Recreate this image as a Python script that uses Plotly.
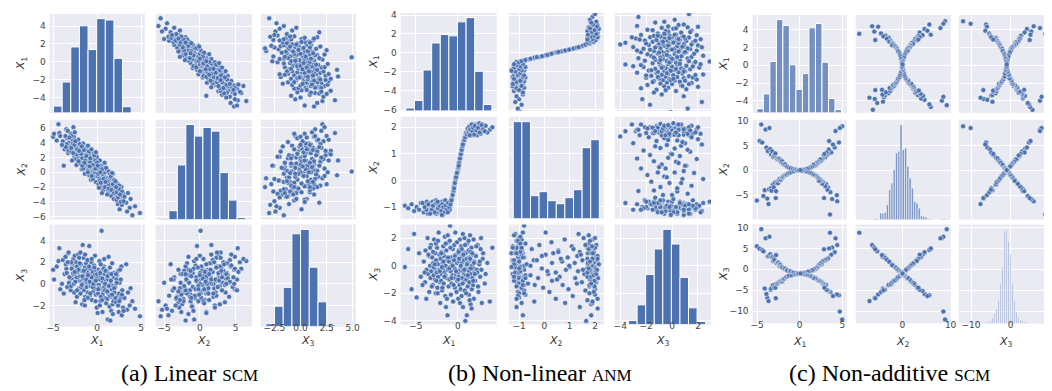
import plotly.graph_objects as go

# ---------------- (a) Linear SCM ----------------
a_x1 = [-5.0,-4.9,-4.4,-4.3,-4.2,-4.6,-3.9,-3.7,-3.5,-3.4,-3.3,-3.2,-3.1,-3.8,-3.6,-3.0,-3.45,-3.25,
        -2.9,-2.8,-2.7,-2.6,-2.5,-2.4,-2.3,-2.2,-2.1,-2.95,-2.85,-2.75,-2.65,-2.55,-2.45,-2.35,-2.25,-2.15,-2.05,-2.6,-2.3,-2.9,
        -1.95,-1.9,-1.85,-1.8,-1.75,-1.7,-1.65,-1.6,-1.55,-1.5,-1.45,-1.4,-1.35,-1.3,-1.25,-1.2,-1.15,-1.1,-1.05,-1.0,-1.9,-1.6,-1.4,-1.2,-1.7,-1.1,
        -0.95,-0.9,-0.85,-0.8,-0.75,-0.7,-0.65,-0.6,-0.55,-0.5,-0.45,-0.4,-0.35,-0.3,-0.25,-0.2,-0.15,-0.1,-0.05,-0.8,-0.5,-0.3,
        0.05,0.1,0.15,0.2,0.25,0.3,0.35,0.4,0.45,0.5,0.55,0.6,0.65,0.7,0.75,0.8,0.85,0.9,0.95,0.2,0.4,0.6,0.8,0.3,0.9,
        1.05,1.1,1.15,1.2,1.25,1.3,1.35,1.4,1.45,1.5,1.55,1.6,1.65,1.7,1.75,1.8,1.85,1.9,1.95,1.3,1.6,1.9,
        2.05,2.15,2.25,2.35,2.45,2.55,2.65,2.75,2.85,2.95,2.2,2.5,2.8,2.4,
        3.1,3.3,3.5,3.7,3.8,3.4,4.0,4.3,4.86,
        -3.15,-2.95,-2.72,-2.48,-2.28,-2.12,-1.98,-1.82,-1.68,-1.52,-1.38,-1.22,-1.08,-0.92,-0.78,-0.62,-0.48,-0.32,-0.18,-0.02,
        0.12,0.28,0.42,0.58,0.72,0.88,1.02,1.18,1.32,1.48,1.62,1.78,1.92,2.08,2.22,2.38,2.52,2.68,2.82,3.0,
        -3.55,-2.05,-1.45,-0.85,-0.15,0.35,0.95,1.55,2.15,-2.55,-1.75,-0.65,0.55,1.15,-4.0,-3.35,0.05,1.7,-1.05,2.6]
a_x2 = [4.8,5.2,6.5,5.3,4.9,4.3,4.2,3.1,5.8,4.6,2.6,4.0,3.5,0.9,4.9,5.2,3.8,2.9,
        3.6,4.4,6.1,2.2,3.3,1.8,4.1,2.6,3.0,2.8,1.6,3.9,4.8,2.5,3.5,1.0,2.9,4.4,2.0,3.7,2.4,4.9,
        2.7,1.2,3.3,2.1,0.4,2.8,1.6,3.9,2.3,1.0,2.6,-0.2,1.9,3.2,1.4,2.5,0.6,1.8,3.6,0.9,2.4,0.5,2.1,1.1,1.9,2.9,
        1.5,-0.4,2.3,0.3,1.1,-1.0,2.0,0.7,-0.1,1.8,0.2,2.6,-0.6,1.2,0.0,1.6,-1.3,0.8,2.1,1.4,-0.9,0.4,
        -0.5,1.2,-1.6,0.3,-0.8,1.6,-0.2,-1.9,0.6,0.1,-1.2,0.9,-0.4,-2.4,0.2,-1.0,1.3,-0.7,-1.8,-2.1,0.9,-0.2,0.5,-1.1,0.0,
        -1.4,0.3,-2.3,-0.8,-1.9,0.1,-2.7,-1.1,-0.3,-2.0,-1.5,-3.2,-0.6,-1.8,-2.5,-0.2,-1.3,-3.6,-2.1,-1.6,-0.9,-1.0,
        -2.4,-3.0,-1.5,-4.3,-2.6,-5.0,-3.3,-2.0,-3.8,-2.9,-3.7,-1.8,-4.4,-2.2,
        -3.3,-4.1,-2.8,-4.8,-3.6,-5.3,-5.8,-4.6,-5.5,
        4.7,3.3,2.6,4.2,3.1,1.5,3.8,2.5,0.9,3.0,1.6,2.2,0.2,2.8,1.9,-0.5,1.0,2.3,0.5,1.3,
        -0.2,0.7,-1.4,0.4,-0.9,-2.0,0.6,-1.2,-2.2,-0.7,-2.4,-1.6,-2.8,-1.2,-2.7,-3.4,-2.3,-4.0,-2.6,-3.9,
        3.4,2.9,1.3,0.8,2.7,0.0,-1.3,-0.5,-2.0,5.4,3.5,3.1,-2.8,-3.0,3.7,5.6,0.9,-0.1,0.0,-3.0]
a_x3 = [1.3,0.4,2.1,3.3,-0.5,1.6,2.2,0.9,1.4,-0.3,2.8,0.1,1.9,-0.9,2.5,-0.6,1.0,2.9,
        0.5,1.7,2.3,-0.8,1.2,2.0,-1.2,0.3,1.5,-0.2,1.9,0.8,0.0,2.6,-1.7,0.6,1.1,2.7,-0.4,0.9,1.6,1.4,
        0.7,-0.9,1.8,0.2,1.2,-1.9,3.6,0.5,2.4,-0.6,0.9,1.5,-1.2,0.1,1.9,-0.3,0.8,2.2,-0.8,0.4,2.9,-0.1,-2.0,1.3,0.0,1.0,
        0.6,3.5,-1.1,1.4,-0.2,0.9,2.0,-1.5,0.3,1.1,-0.7,0.5,1.7,-0.4,2.6,0.0,-1.0,1.2,-2.2,0.1,-0.3,0.8,
        0.6,-0.9,1.3,-0.1,2.1,0.4,-1.6,0.7,-0.5,4.9,1.0,-2.6,0.2,-0.8,1.6,-0.3,0.9,-1.3,0.3,-0.4,1.8,-1.0,2.3,-2.0,0.0,
        -0.6,1.2,-1.4,-3.3,0.4,-0.9,0.9,-2.1,1.5,-3.4,0.1,-1.2,-0.5,1.9,-1.9,-0.2,-1.6,0.6,-0.8,2.5,-2.5,1.0,
        -0.3,-1.7,0.8,-1.1,-2.6,0.1,-1.4,1.6,-0.6,-2.2,0.4,-0.9,-2.9,1.2,
        -1.3,1.8,-0.8,-2.0,-0.4,-2.4,-1.6,-2.3,-3.0,
        0.6,2.0,1.0,0.2,-0.6,1.3,1.9,-0.3,0.7,1.2,2.7,0.4,-1.3,1.6,-0.9,2.3,0.0,1.5,-1.6,0.9,
        -0.5,1.1,-1.2,0.5,1.4,-0.6,-1.8,0.7,-0.2,-1.1,0.9,-2.8,-0.4,-1.3,0.1,-2.0,-1.6,0.4,-1.0,-2.5,
        1.8,2.4,-1.5,0.2,0.3,1.0,1.2,0.3,0.9,1.1,-0.1,0.6,-1.5,-0.7,0.0,2.0,-2.7,-1.0,0.8,1.3]
# histogram bins: first edge, bin width, bar heights
a_h1_start, a_h1_width = -4.96, 0.981
a_h1_counts = [21,95,203,268,195,290,286,168,19,1]
a_h2_start, a_h2_width = -5.54, 1.193
a_h2_counts = [4,27,165,287,252,278,267,142,59,6]
a_h3_start, a_h3_width = -3.32, 0.832
a_h3_counts = [8,60,116,275,288,176,73,5,1,1]

# ---------------- (b) Non-linear ANM ----------------
b_x1 = [-6.3,-5.9,-5.5,-5.2,-4.9,-4.4,
        -4.05,-3.9,-3.85,-3.7,-3.6,-3.55,-3.45,-3.4,-3.3,-3.25,-3.2,-3.15,-3.75,
        -3.05,-2.98,-2.93,-2.88,-2.82,-2.77,-2.72,-2.68,-2.63,-2.57,-2.52,-2.47,-2.43,-2.38,-2.33,-2.28,-2.22,-2.18,-2.13,-2.1,-2.6,-2.9,
        -2.05,-2.0,-1.96,-1.91,-1.87,-1.82,-1.78,-1.73,-1.69,-1.64,-1.6,-1.55,-1.5,-1.46,-1.41,-1.37,-1.32,-1.27,-1.23,-1.18,-1.14,-1.1,-1.8,-1.5,
        -1.05,-1.0,-0.96,-0.92,-0.87,-0.83,-0.78,-0.74,-0.7,-0.65,-0.6,-0.56,-0.52,-0.47,-0.43,-0.38,-0.34,-0.3,-0.25,-0.21,-0.16,-0.12,-0.08,-0.9,
        -0.02,0.02,0.05,0.09,0.12,0.16,0.2,0.23,0.26,0.3,0.33,0.37,0.4,0.44,0.47,0.51,0.54,0.58,0.61,0.65,0.68,0.72,0.75,0.79,0.82,0.86,0.89,0.93,0.96,
        1.0,1.04,1.07,1.1,1.14,1.17,1.2,1.24,1.27,1.31,1.34,1.38,1.41,1.45,1.48,1.52,1.55,1.59,1.62,1.66,1.69,1.73,1.76,1.8,1.83,1.87,1.9,1.94,1.97,1.5,
        2.05,2.15,2.25,2.35,2.45,2.55,2.65,2.75,2.85,2.95,2.3,2.7,3.3,3.8,4.1,3.5,
        -3.95,-3.5,-3.1,-2.95,-2.75,-2.55,-2.35,-2.15,-1.98,-1.84,-1.71,-1.58,-1.44,-1.3,-1.16,-1.02,-0.88,-0.76,-0.62,-0.5,
        -0.36,-0.22,-0.1,0.04,0.14,0.25,0.35,0.46,0.56,0.66,0.77,0.87,0.98,1.08,1.18,1.28,1.36,1.46,1.56,1.64,
        1.72,1.82,1.92,2.02,2.2,2.4,2.6,2.8,3.0,3.2,-4.6,-4.2,-3.3,-2.4,-1.9,-1.2,0.6,1.4,-0.45,0.1]
b_x2 = [-0.95,-1.05,-0.9,-1.15,-1.0,-0.85,
        -1.2,-0.95,-1.1,-0.8,-1.0,-1.25,-0.9,-1.05,-1.15,-0.85,-1.0,-0.95,-1.1,
        -1.05,-0.8,-1.2,-1.0,-0.9,-1.15,-1.05,-0.85,-1.0,-1.25,-0.95,-1.1,-0.9,-1.0,-1.2,-0.85,-1.05,-0.95,-1.1,-0.9,-0.75,-1.15,
        -1.0,-1.2,-0.9,-1.05,-0.8,-1.1,-0.95,-1.25,-1.0,-0.85,-1.15,-0.95,-1.05,-0.8,-1.1,-0.9,-1.0,-1.2,-0.85,-0.95,-1.05,-0.9,-1.3,-0.75,
        -1.0,-0.85,-1.1,-0.8,-0.95,-0.75,-0.8,-0.65,-0.7,-0.55,-0.5,-0.4,-0.42,-0.25,-0.2,-0.1,-0.05,0.05,0.05,0.15,0.2,0.3,0.3,-0.95,
        0.35,0.45,0.45,0.55,0.6,0.7,0.72,0.8,0.85,0.92,0.95,1.0,1.08,1.12,1.2,1.22,1.3,1.33,1.4,1.4,1.48,1.5,1.58,1.55,1.62,1.68,1.65,1.72,1.75,
        1.8,1.7,1.85,1.75,1.9,1.78,1.95,1.7,1.88,2.0,1.8,1.92,2.05,1.75,1.98,1.85,2.08,1.9,1.7,2.0,1.88,2.12,1.95,1.78,2.02,1.92,2.1,1.82,2.0,1.95,
        1.9,2.1,1.8,2.05,1.95,2.15,1.85,2.0,1.9,2.1,1.7,1.75,2.05,1.9,2.0,1.8,
        -1.0,-0.9,-1.1,-0.95,-1.2,-0.85,-1.05,-0.95,-1.15,-0.9,-1.0,-1.2,-0.95,-1.1,-0.85,-1.0,-0.9,-0.75,-0.55,-0.38,
        -0.1,0.12,0.28,0.5,0.65,0.82,0.98,1.15,1.28,1.44,1.52,1.62,1.78,1.72,1.95,1.8,2.02,1.9,1.75,2.1,
        1.85,1.98,1.72,2.05,1.88,1.98,1.8,2.08,1.92,1.85,-1.1,-0.85,-1.25,-0.8,-1.3,-1.2,1.35,1.7,-0.3,0.55]
b_x3 = [-0.1,1.2,-1.7,2.3,-2.3,-0.8,
        0.3,-1.2,1.1,-0.3,2.0,-0.6,0.7,-1.9,0.0,-0.9,1.5,-0.4,-2.4,
        0.6,-1.4,0.2,-0.7,1.9,-0.2,-1.0,0.9,-2.0,0.4,-0.5,1.3,-1.6,0.1,-0.8,2.4,-0.3,0.8,-1.2,-2.7,1.6,-0.1,
        0.5,-1.1,1.0,-0.6,-1.8,0.2,-0.2,1.4,-1.3,0.7,-0.5,2.1,-2.2,0.0,-3.0,1.1,-0.9,0.4,-3.6,-0.3,1.7,-1.5,0.9,-0.7,
        0.3,-1.0,1.8,2.9,-0.4,-2.1,0.6,-1.3,0.1,-0.7,1.2,-2.6,0.4,-0.9,1.5,-0.2,-1.6,2.4,0.8,-0.6,-1.9,0.2,-1.1,-0.1,
        0.9,-0.5,-2.4,1.1,-0.8,0.3,-1.4,1.9,-0.3,0.6,-1.7,-0.1,1.4,-2.2,0.2,-0.9,0.7,-0.4,-3.0,1.0,-1.2,0.4,-0.6,2.0,-1.8,-0.2,-4.0,0.9,-0.7,
        -1.0,0.5,-3.6,1.6,-0.3,-1.5,0.2,-0.8,1.1,-2.1,-0.4,0.6,-1.2,2.2,-0.1,-2.8,0.4,-0.6,1.3,-1.7,0.0,-0.9,0.8,-1.4,-0.2,1.9,-2.4,0.3,-0.5,1.0,
        -1.1,0.7,-0.3,1.5,-1.9,0.1,-0.8,2.0,-2.7,0.5,-0.5,1.2,-0.6,-2.6,1.3,0.2,
        -0.5,0.8,-1.5,1.0,0.1,-1.1,1.8,-0.4,0.9,-1.6,0.3,-0.8,1.6,-2.4,0.6,-0.2,1.3,-0.9,0.0,-1.4,
        0.7,-0.4,1.7,-1.0,0.5,-2.7,0.0,1.2,-1.3,0.8,-0.3,1.5,-2.0,0.1,-0.7,1.8,-1.2,0.5,-0.2,-3.1,
        0.9,-1.1,0.2,-0.6,1.4,-1.5,0.3,-0.3,0.9,-1.3,0.9,-1.4,1.3,-2.0,-0.1,2.2,2.3,-2.5,0.4,1.0]
b_h1_start, b_h1_width = -6.18, 1.023
b_h1_counts = [9,32,126,209,235,231,274,287,122,20]
b_h2_start, b_h2_width = -1.23, 0.34
b_h2_counts = [97,97,23,27,18,15,21,29,71,79]
b_h3_start, b_h3_width = -4.02, 0.661
b_h3_counts = [1,4,20,51,77,97,82,48,17,3]

# ---------------- (c) Non-additive SCM ----------------
c_x1 = [-5.02,-4.7,-4.5,-4.4,-4.1,-4.0,-4.25,-3.8,-3.65,-3.55,-3.9,-3.75,-3.6,-3.45,-3.4,-3.35,-3.3,-3.2,-3.15,-3.1,
        -3.05,-3.0,-2.95,-2.9,-2.85,-2.8,-2.77,-2.7,-2.65,-2.6,-2.55,-2.5,-2.45,-2.4,-2.35,-2.3,-2.25,-2.2,-2.15,-2.1,
        -2.05,-2.0,-1.95,-1.9,-1.8,-1.75,-1.7,-1.6,-1.55,-1.5,-1.45,-1.35,-1.25,-1.15,-1.05,-0.95,-0.8,-0.7,-0.55,-0.4,-0.25,-0.1,
        4.98,4.7,4.6,4.4,4.2,4.1,4.35,3.55,3.8,3.7,3.9,3.6,3.45,3.4,3.35,3.3,3.25,3.15,3.1,3.05,
        3.0,2.95,2.85,2.8,2.75,2.7,2.65,2.6,2.55,2.5,2.9,2.45,2.4,2.35,2.3,2.25,2.2,2.15,2.1,2.05,
        2.0,1.95,1.9,1.85,1.8,1.7,1.65,1.6,1.55,1.45,1.35,1.25,1.15,1.05,0.95,0.85,0.7,0.55,0.4,0.25,0.1]
c_x2 = [-6.1,5.9,9.2,5.6,-4.0,8.2,-5.2,-5.7,-6.8,8.5,4.6,3.9,-3.8,4.3,-3.6,3.2,-4.1,3.8,-2.9,2.7,
        -3.4,3.1,2.9,-2.5,3.4,-5.6,-4.2,2.5,-2.3,2.2,-2.6,2.4,-2.0,2.3,-1.7,1.9,2.0,-1.9,1.6,-1.5,
        1.8,-1.4,1.3,-1.2,1.1,-1.0,1.2,-0.9,0.8,-0.85,0.7,-0.6,0.5,-0.5,0.4,-0.35,0.25,-0.2,0.15,0.1,-0.05,0.0,
        8.86,8.5,5.6,-6.25,7.9,4.6,-5.0,-8.9,-5.8,3.6,5.2,-4.4,5.9,4.2,-3.5,3.3,-3.9,3.6,-2.8,2.9,
        -3.2,2.6,-5.6,3.0,-2.4,2.4,-2.7,2.2,-2.1,1.9,3.3,-2.0,2.2,-1.8,1.6,-2.1,1.7,-1.5,1.4,-1.3,
        1.5,1.2,-1.1,1.0,-1.0,0.9,-0.9,1.1,-0.8,0.7,-0.55,0.55,-0.45,0.4,-0.3,0.3,-0.2,0.15,0.05,-0.1,0.05]
c_x3 = [5.5,4.9,9.6,4.6,-4.6,7.4,4.3,-6.8,-7.6,7.8,-5.9,3.1,3.2,3.6,-4.9,-4.6,3.0,2.9,-3.8,2.0,
        2.6,-4.4,2.2,-3.6,-4.4,-6.9,3.4,1.5,-3.5,-3.3,1.7,1.6,-3.1,1.2,0.8,-2.9,1.1,-2.8,0.7,0.5,
        -2.9,-2.5,0.3,-2.3,-2.2,0.1,0.2,-1.9,-1.8,-0.1,-0.3,-1.6,-1.5,-0.4,-0.5,-1.4,-0.7,-0.8,-1.2,-0.9,-1.1,-1.0,
        -12.0,-10.1,-6.2,5.8,7.4,4.1,-6.0,8.75,5.2,3.5,-6.4,-5.4,5.0,-5.2,2.7,2.5,-5.0,-4.9,-3.7,2.1,
        2.3,-3.7,4.8,2.0,-3.5,-3.3,1.8,1.3,-3.1,-2.9,-4.4,1.1,1.4,-2.8,-2.7,1.0,0.9,-2.6,0.5,0.4,
        -2.4,0.3,-2.2,-2.1,0.0,0.1,-1.9,-2.0,-0.2,-0.2,-1.6,-1.6,-0.5,-1.4,-0.6,-1.3,-1.2,-0.8,-1.1,-0.9,-1.0]
c_h1_start, c_h1_width = -5.02, 0.763
c_h1_counts = [13,58,157,285,267,147,72,120,260,273,155,44,10]
c_h2_start, c_h2_width = -6.6, 0.47
c_h2_counts = [2,2,4,2,20,20,22,45,90,110,150,200,205,285,210,215,160,125,95,55,50,35,12,10,8,4,2,1,0,0,0,3,3,2]
c_h3_start, c_h3_width = -12.8, 0.5
c_h3_counts = [1,0,1,0,2,1,0,1,2,2,3,2,4,5,6,10,18,30,45,70,120,170,280,285,250,210,120,70,35,20,
               12,8,6,5,4,3,3,2,2,1,1,2,1,1,0,1]

# tick values / labels
a_xticks = [[-5, 0, 5], [-5, 0, 5], [-2.5, 0, 2.5, 5]]
a_xtext = [['−5', '0', '5'], ['−5', '0', '5'], ['−2.5', '0.0', '2.5', '5.0']]
a_yticks = [[-4, -2, 0, 2, 4], [-6, -4, -2, 0, 2, 4, 6], [-2, 0, 2, 4]]
a_ytext = [['−4', '−2', '0', '2', '4'], ['−6', '−4', '−2', '0', '2', '4', '6'], ['−2', '0', '2', '4']]
b_xticks = [[-5, 0], [-1, 0, 1, 2], [-4, -2, 0, 2]]
b_xtext = [['−5', '0'], ['−1', '0', '1', '2'], ['−4', '−2', '0', '2']]
b_yticks = [[-6, -4, -2, 0, 2, 4], [-1, 0, 1, 2], [-4, -2, 0, 2]]
b_ytext = [['−6', '−4', '−2', '0', '2', '4'], ['−1', '0', '1', '2'], ['−4', '−2', '0', '2']]
c_xticks = [[-5, 0, 5], [0, 10], [-10, 0, 10]]
c_xtext = [['−5', '0', '5'], ['0', '10'], ['−10', '0', '10']]
c_yticks = [[-4, -2, 0, 2, 4], [-5, 0, 5, 10], [-10, -5, 0, 5, 10]]
c_ytext = [['−4', '−2', '0', '2', '4'], ['−5', '0', '5', '10'], ['−10', '−5', '0', '5', '10']]

var_titles = ['<i>X</i><sub>1</sub>', '<i>X</i><sub>2</sub>', '<i>X</i><sub>3</sub>']
captions = ['(a) Linear <span style="font-size:17px">SCM</span>',
            '(b) Non-linear <span style="font-size:17px">ANM</span>',
            '(c) Non-additive <span style="font-size:17px">SCM</span>']

# ---------------- layout geometry ----------------
W, H = 1052, 391
BLUE = '#4C72B0'
BG = '#EAEAF2'
TICKFONT = dict(family='DejaVu Sans', size=9, color='#444444')
TITLEFONT = dict(family='DejaVu Sans', size=11, color='#333333')
CAPFONT = dict(family='Liberation Serif, Times New Roman, serif', size=24, color='black')

groups = [
    dict(data=[a_x1, a_x2, a_x3],
         hists=[(a_h1_start, a_h1_width, a_h1_counts), (a_h2_start, a_h2_width, a_h2_counts),
                (a_h3_start, a_h3_width, a_h3_counts)],
         cols=[(39, 135), (146, 243), (252, 348)],
         rows=[(2, 103), (110, 212), (217, 321)],
         xr=[[-5.40, 5.42], [-6.18, 7.29], [-3.80, 5.32]],
         yr=[[-5.72, 5.35], [-6.4, 7.1], [-3.94, 5.48]],
         xt=a_xticks, xtt=a_xtext, yt=a_yticks, ytt=a_ytext,
         hfill=[BLUE, BLUE, BLUE], hedge=[1, 1, 1],
         ytitle_x=11, xtitle_y=336, cap_x=180),
    dict(data=[b_x1, b_x2, b_x3],
         hists=[(b_h1_start, b_h1_width, b_h1_counts), (b_h2_start, b_h2_width, b_h2_counts),
                (b_h3_start, b_h3_width, b_h3_counts)],
         cols=[(393, 490), (502, 598), (609, 706)],
         rows=[(1, 101), (107, 211), (217, 319)],
         xr=[[-6.8, 4.63], [-1.41, 2.35], [-4.42, 3.0]],
         yr=[[-6.15, 4.22], [-1.44, 2.39], [-4.26, 2.98]],
         xt=b_xticks, xtt=b_xtext, yt=b_yticks, ytt=b_ytext,
         hfill=[BLUE, BLUE, BLUE], hedge=[1, 1, 1],
         ytitle_x=366, xtitle_y=336, cap_x=534),
    dict(data=[c_x1, c_x2, c_x3],
         hists=[(c_h1_start, c_h1_width, c_h1_counts), (c_h2_start, c_h2_width, c_h2_counts),
                (c_h3_start, c_h3_width, c_h3_counts)],
         cols=[(748, 843), (852, 948), (956, 1051)],
         rows=[(3, 103), (110, 212), (217, 318)],
         xr=[[-5.52, 5.52], [-9.65, 10.06], [-13.08, 10.68]],
         yr=[[-5.37, 5.68], [-9.94, 10.18], [-12.95, 10.7]],
         xt=c_xticks, xtt=c_xtext, yt=c_yticks, ytt=c_ytext,
         hfill=['rgba(76,114,176,0.75)', 'rgba(76,114,176,0.7)', 'rgba(76,114,176,0.3)'],
         hedge=[1, 0.6, 0.5],
         ytitle_x=719, xtitle_y=337, cap_x=886),
]

fig = go.Figure()
lay = dict(width=W, height=H, margin=dict(l=0, r=0, t=0, b=0),
           paper_bgcolor='white', plot_bgcolor=BG, showlegend=False,
           barmode='overlay', annotations=[])

for g, G in enumerate(groups):
    for r in range(3):
        for c in range(3):
            p = g * 9 + r * 3 + c + 1
            s = '' if p == 1 else str(p)
            xref, yref = 'x' + s, 'y' + s
            lay['xaxis' + s] = dict(
                domain=[G['cols'][c][0] / W, G['cols'][c][1] / W], range=G['xr'][c],
                anchor=yref, tickmode='array', tickvals=G['xt'][c], ticktext=G['xtt'][c],
                showticklabels=(r == 2), showgrid=True, gridcolor='white', gridwidth=1,
                zeroline=False, showline=False, ticks='', tickfont=TICKFONT,
                ticklabelstandoff=-5)
            ydom = [1 - G['rows'][r][1] / H, 1 - G['rows'][r][0] / H]
            if r == c:
                # diagonal: count axis; grid/labels placed where the shared X_r ticks fall
                start, width, counts = G['hists'][r]
                top = max(counts) * 1.05
                lo, hi = G['yr'][r]
                tv = [(v - lo) / (hi - lo) * top for v in G['yt'][r]]
                lay['yaxis' + s] = dict(
                    domain=ydom, range=[0, top], anchor=xref, tickmode='array',
                    tickvals=tv, ticktext=G['ytt'][r], showticklabels=(c == 0),
                    showgrid=True, gridcolor='white', gridwidth=1,
                    zeroline=False, showline=False, ticks='', tickfont=TICKFONT,
                    ticklabelstandoff=3)
                centers = [start + width * (i + 0.5) for i in range(len(counts))]
                fig.add_trace(go.Bar(x=centers, y=counts, width=width, xaxis=xref, yaxis=yref,
                                     marker=dict(color=G['hfill'][r],
                                                 line=dict(color='white', width=G['hedge'][r]))))
            else:
                lay['yaxis' + s] = dict(
                    domain=ydom, range=G['yr'][r], anchor=xref, tickmode='array',
                    tickvals=G['yt'][r], ticktext=G['ytt'][r], showticklabels=(c == 0),
                    showgrid=True, gridcolor='white', gridwidth=1,
                    zeroline=False, showline=False, ticks='', tickfont=TICKFONT,
                    ticklabelstandoff=3)
                fig.add_trace(go.Scatter(x=G['data'][c], y=G['data'][r], mode='markers',
                                         xaxis=xref, yaxis=yref, cliponaxis=True,
                                         marker=dict(size=5, color=BLUE,
                                                     line=dict(color='white', width=0.5))))
    # axis titles
    for i in range(3):
        cx = (G['cols'][i][0] + G['cols'][i][1]) / 2
        lay['annotations'].append(dict(text=var_titles[i], x=cx / W, y=1 - G['xtitle_y'] / H,
                                       xref='paper', yref='paper', showarrow=False,
                                       xanchor='center', yanchor='middle', font=TITLEFONT))
        cy = (G['rows'][i][0] + G['rows'][i][1]) / 2
        lay['annotations'].append(dict(text=var_titles[i], x=G['ytitle_x'] / W, y=1 - cy / H,
                                       xref='paper', yref='paper', showarrow=False, textangle=-90,
                                       xanchor='center', yanchor='middle', font=TITLEFONT))
    lay['annotations'].append(dict(text=captions[g], x=G['cap_x'] / W, y=1 - 369 / H,
                                   xref='paper', yref='paper', showarrow=False,
                                   xanchor='center', yanchor='middle', font=CAPFONT))

fig.update_layout(**lay)
fig.write_html('out.html')
